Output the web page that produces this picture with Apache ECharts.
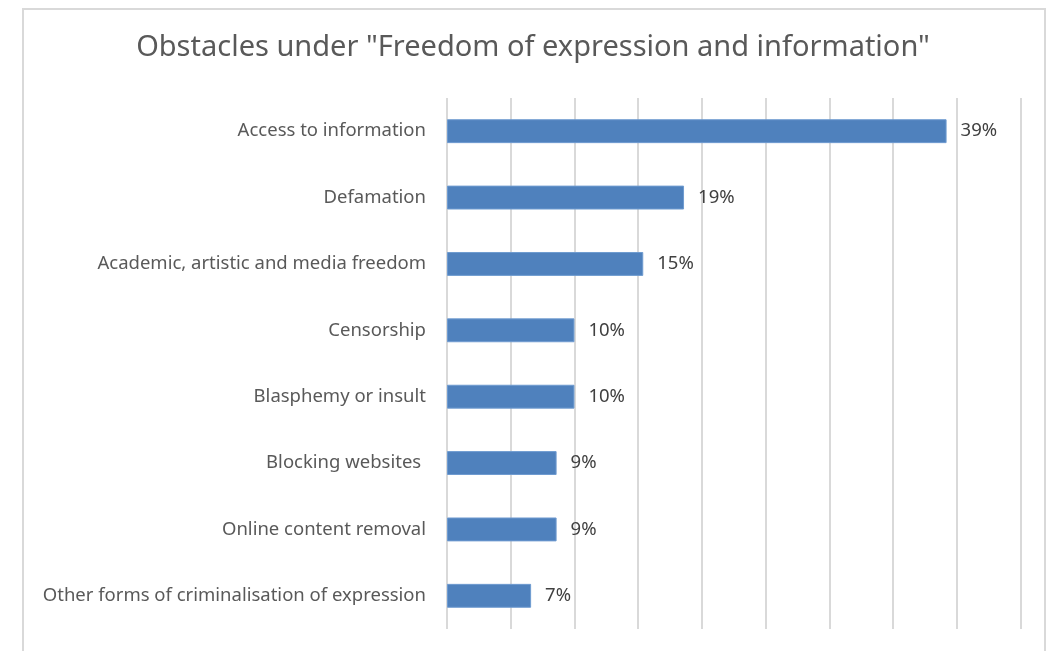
<!DOCTYPE html>
<html>
<head>
<meta charset="utf-8">
<script src="https://cdn.jsdelivr.net/npm/echarts@6/dist/echarts.min.js"></script>
<style>
html,body{margin:0;padding:0;background:#fff;}
#chart{width:1051px;height:651px;}
</style>
</head>
<body>
<div id="chart"></div>
<script>
const titleText = 'Obstacles under "Freedom of expression and information"';
const categories = [
  'Access to information',
  'Defamation',
  'Academic, artistic and media freedom',
  'Censorship',
  'Blasphemy or insult',
  'Blocking websites ',
  'Online content removal',
  'Other forms of criminalisation of expression'
];
const values = [39.2, 18.6, 15.4, 10.0, 10.0, 8.6, 8.6, 6.6];
const valueLabels = ['39%', '19%', '15%', '10%', '10%', '9%', '9%', '7%'];

const chart = echarts.init(document.getElementById('chart'));
const font = 'Noto Sans';
chart.setOption({
  animation: false,
  backgroundColor: '#ffffff',
  graphic: [{
    type: 'rect',
    shape: { x: 23, y: 9, width: 1022, height: 700 },
    style: { fill: 'none', stroke: '#d9d9d9', lineWidth: 2 },
    silent: true
  }],
  title: {
    text: titleText,
    left: 528,
    textAlign: 'center',
    top: 28,
    textStyle: { fontFamily: font, fontSize: 29, fontWeight: 'normal', color: '#595959' }
  },
  grid: { left: 447, right: 30.5, top: 98, bottom: 22, containLabel: false },
  xAxis: {
    type: 'value',
    min: 0, max: 45, interval: 5,
    axisLabel: { show: false },
    axisLine: { show: false },
    axisTick: { show: false },
    splitLine: { show: true, lineStyle: { color: '#d9d9d9', width: 2 } }
  },
  yAxis: {
    type: 'category',
    data: categories,
    inverse: true,
    axisLine: { show: false },
    axisTick: { show: false },
    axisLabel: { margin: 21, fontFamily: font, fontSize: 18.5, color: '#595959' }
  },
  series: [{
    type: 'bar',
    data: values,
    barCategoryGap: '64%',
    itemStyle: { color: '#4f81bd', borderColor: '#6f9bd0', borderWidth: 1 },
    label: {
      show: true,
      position: 'right',
      distance: 14,
      fontFamily: font,
      fontSize: 18.5,
      color: '#404040',
      formatter: p => valueLabels[p.dataIndex]
    }
  }]
});
</script>
</body>
</html>
